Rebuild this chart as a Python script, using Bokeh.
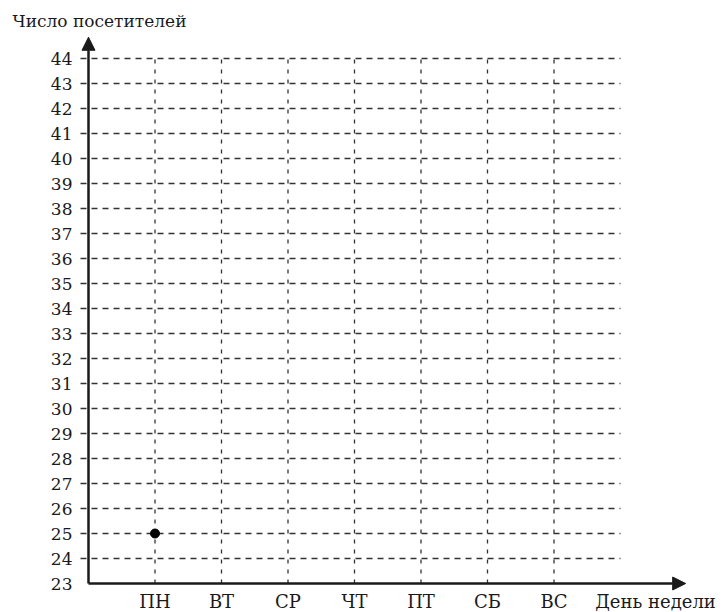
from bokeh.plotting import figure
from bokeh.models import FixedTicker, Label, Arrow, NormalHead, Range1d
from bokeh.embed import file_html
from bokeh.resources import INLINE

# ---- data ----
days = ["ПН", "ВТ", "СР", "ЧТ", "ПТ", "СБ", "ВС"]
visitor_ticks = list(range(23, 45))
point_days = ["ПН"]
point_visitors = [25]
y_title = "Число посетителей"
x_title = "День недели"

day_pos = [i + 1 for i in range(len(days))]
pos_of = dict(zip(days, day_pos))
y_min, y_max = visitor_ticks[0], visitor_ticks[-1]

FONT = "DejaVu Serif"
INK = "#1a1a1a"

p = figure(width=725, height=612,
           x_range=Range1d(-1.3233, 9.579), y_range=Range1d(21.84, 46.32),
           output_backend="svg", toolbar_location=None, min_border=0,
           background_fill_color="white", border_fill_color="white")
p.outline_line_color = None
p.grid.visible = False

# axes through the origin
xa = p.xaxis[0]
ya = p.yaxis[0]
xa.fixed_location = y_min
ya.fixed_location = 0
for ax in (xa, ya):
    ax.axis_line_color = None
    ax.major_tick_line_color = None
    ax.minor_tick_line_color = None
    ax.major_tick_in = 0
    ax.major_tick_out = 0
    ax.major_label_text_color = INK
    ax.major_label_text_font = FONT
xa.ticker = FixedTicker(ticks=day_pos)
xa.major_label_overrides = {d: name for d, name in zip(day_pos, days)}
xa.major_label_text_font_size = "18px"
xa.major_label_standoff = 7
ya.ticker = FixedTicker(ticks=visitor_ticks)
ya.major_label_text_font_size = "17px"
ya.major_label_standoff = 16

# dashed grid
grid_right = len(days) + 1
hy = visitor_ticks[1:]
p.segment(x0=[-0.12] * len(hy), y0=hy, x1=[grid_right] * len(hy), y1=hy,
          line_color="#333333", line_width=1.3, line_dash="6 5")
p.segment(x0=day_pos, y0=[y_min] * len(day_pos), x1=day_pos, y1=[y_max] * len(day_pos),
          line_color="#333333", line_width=1.3, line_dash="4 6")

# axis arrows
p.add_layout(Arrow(x_start=0, y_start=y_min, x_end=0, y_end=y_max + 0.85,
                   line_width=2.5, line_color=INK,
                   end=NormalHead(size=13, fill_color=INK, line_color=INK)))
p.add_layout(Arrow(x_start=0, y_start=y_min, x_end=grid_right + 0.98, y_end=y_min,
                   line_width=2.5, line_color=INK,
                   end=NormalHead(size=13, fill_color=INK, line_color=INK)))

# data point
p.scatter(x=[pos_of[d] for d in point_days], y=point_visitors, size=9,
          fill_color="black", line_color="black")

# axis titles
p.add_layout(Label(x=-1.143, y=y_max + 1.5, text=y_title, text_font=FONT,
                   text_font_size="17px", text_color=INK, text_baseline="alphabetic"))
p.add_layout(Label(x=grid_right - 0.38, y=y_min, y_offset=-7, text=x_title, text_font=FONT,
                   text_font_size="18px", text_color=INK, text_baseline="top"))

open("out.html", "w").write(file_html(p, INLINE))
